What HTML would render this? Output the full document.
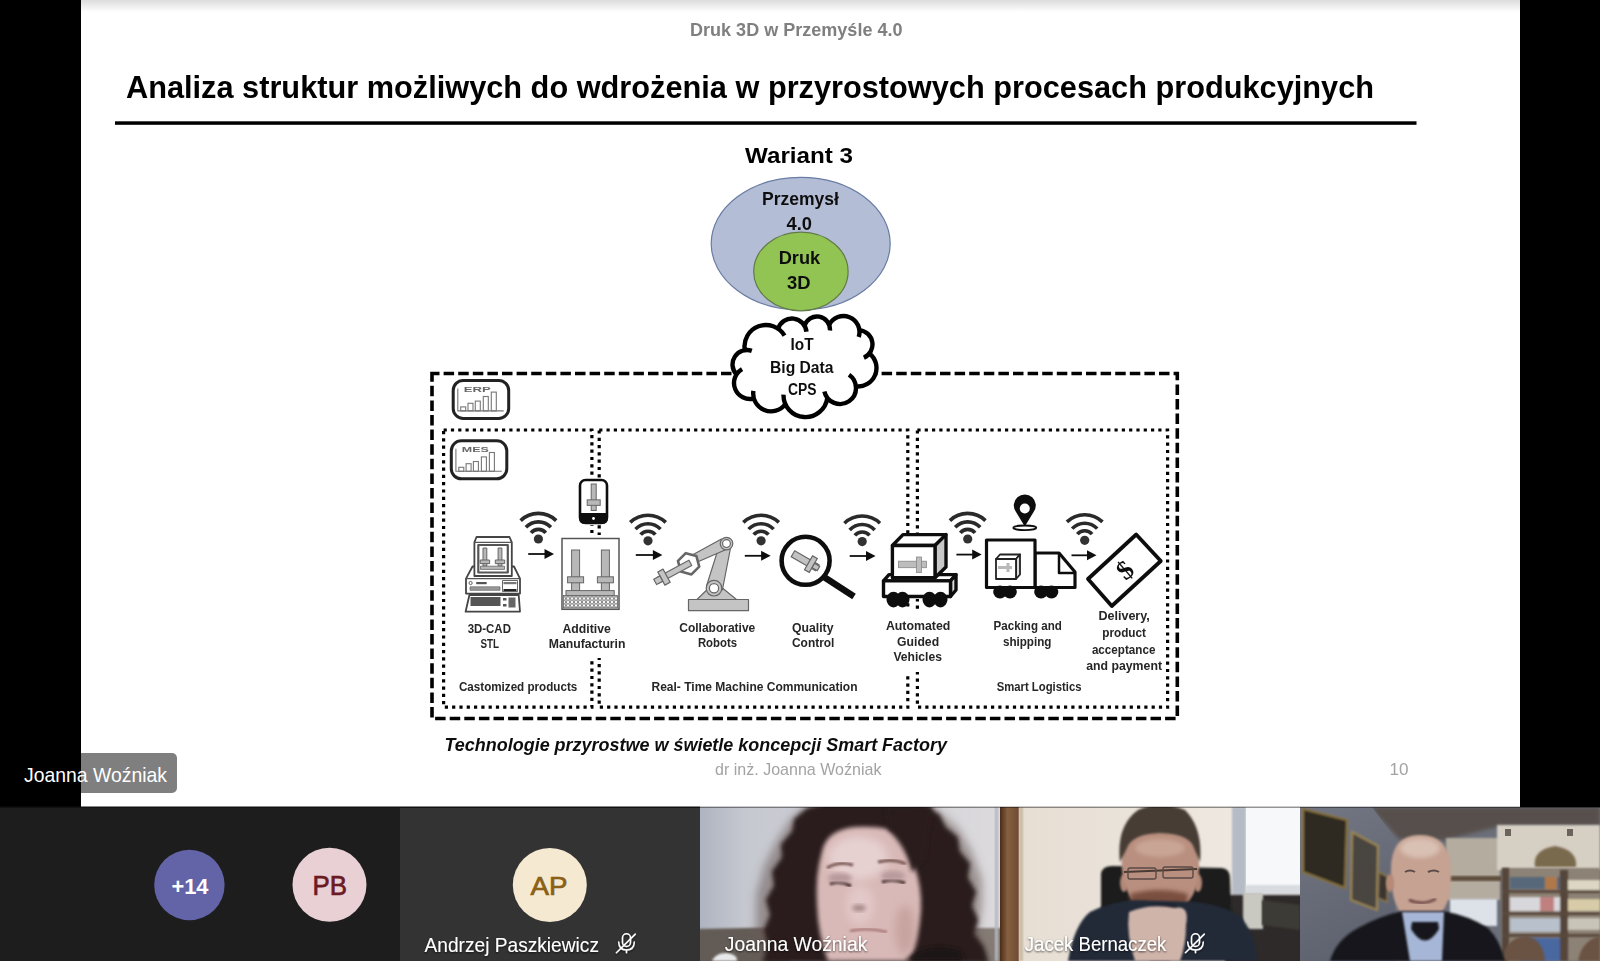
<!DOCTYPE html>
<html><head><meta charset="utf-8">
<style>
html,body{margin:0;padding:0;width:1600px;height:961px;overflow:hidden;background:#000;font-family:"Liberation Sans",sans-serif;}
.abs{position:absolute;}
#slide{left:81px;top:0;width:1439px;height:807px;background:#fff;}
#slide .shade{left:0;top:0;width:1439px;height:12px;background:linear-gradient(#dcdcdc,#fff);}
</style></head><body>
<div id="slide" class="abs"><div class="shade abs"></div></div>
<svg class="abs" style="left:0;top:0" width="1600" height="961" viewBox="0 0 1600 961" font-family="Liberation Sans">
<filter id="soft" x="0" y="0" width="1600" height="961" filterUnits="userSpaceOnUse"><feGaussianBlur stdDeviation="0.45"/></filter>
<g id="diagram" filter="url(#soft)">
<text x="690" y="36.2" font-size="18.5" font-weight="bold" fill="#7f7f7f" textLength="212.5" lengthAdjust="spacingAndGlyphs">Druk 3D w Przemyśle 4.0</text>
<text x="126" y="97.6" font-size="32" font-weight="bold" fill="#000" textLength="1248" lengthAdjust="spacingAndGlyphs">Analiza struktur możliwych do wdrożenia w przyrostowych procesach produkcyjnych</text>
<rect x="115" y="121.3" width="1301.5" height="3.5" fill="#000"/>
<text x="745" y="162.7" font-size="22" font-weight="bold" fill="#000" textLength="108" lengthAdjust="spacingAndGlyphs">Wariant 3</text>
<ellipse cx="800.7" cy="243.6" rx="89.5" ry="66.3" fill="#b3bdd6" stroke="#6a7ca3" stroke-width="1.2"/>
<ellipse cx="800.9" cy="271.5" rx="47.2" ry="39.3" fill="#92c453" stroke="#627a48" stroke-width="1.2"/>
<text x="762" y="204.7" font-size="18" font-weight="bold" fill="#111" textLength="77" lengthAdjust="spacingAndGlyphs">Przemysł</text>
<text x="786.5" y="229.6" font-size="18" font-weight="bold" fill="#111" textLength="25.5" lengthAdjust="spacingAndGlyphs">4.0</text>
<text x="778.7" y="264.2" font-size="18" font-weight="bold" fill="#111" textLength="41.5" lengthAdjust="spacingAndGlyphs">Druk</text>
<text x="787" y="288.6" font-size="18" font-weight="bold" fill="#111" textLength="23.5" lengthAdjust="spacingAndGlyphs">3D</text>
<rect x="432" y="373.5" width="745.3" height="345" fill="none" stroke="#000" stroke-width="3.6" stroke-dasharray="10.5 4.1" stroke-dashoffset="3"/>
<rect x="443.6" y="430" width="148.3" height="277.2" fill="none" stroke="#000" stroke-width="3.2" stroke-dasharray="3.2 4.1"/>
<rect x="599.2" y="430" width="308.6" height="277.2" fill="none" stroke="#000" stroke-width="3.2" stroke-dasharray="3.2 4.1"/>
<rect x="917.4" y="430" width="250.2" height="277.2" fill="none" stroke="#000" stroke-width="3.2" stroke-dasharray="3.2 4.1"/>
<g fill="#fff"><circle cx="747" cy="364.5" r="14.5"/><circle cx="766" cy="346.5" r="21.5"/><circle cx="792" cy="333" r="14.5"/><circle cx="817" cy="329.5" r="13"/><circle cx="843.5" cy="332" r="16"/><circle cx="858" cy="344.5" r="14.5"/><circle cx="858" cy="368" r="18.5"/><circle cx="840" cy="388" r="16"/><circle cx="805.5" cy="395" r="22"/><circle cx="771" cy="393.5" r="17.8"/><circle cx="750" cy="383" r="16"/><polygon points="744.81,350.17 778.14,328.75 804.55,325.74 829.16,324.90 859.38,330.07 869.41,353.44 855.92,386.38 827.33,397.77 785.41,403.96 753.92,398.51 736.47,374.46"/></g><path d="M736.47,374.46 A14.5,14.5 0 0 1 751.80,350.82 M744.81,350.17 A21.5,21.5 0 0 1 784.50,335.54 M778.14,328.75 A14.5,14.5 0 0 1 806.44,331.73 M804.55,325.74 A13,13 0 0 1 829.96,330.47 M829.16,324.90 A16,16 0 0 1 858.71,336.96 M859.38,330.07 A14.5,14.5 0 0 1 863.88,357.75 M869.41,353.44 A18.5,18.5 0 0 1 855.92,386.38 M848.99,374.77 A16,16 0 1 1 824.39,391.49 M827.33,397.77 A22,22 0 0 1 783.50,394.62 M785.41,403.96 A17.8,17.8 0 0 1 753.40,390.82 M753.92,398.51 A16,16 0 0 1 742.06,369.11" fill="none" stroke="#000" stroke-width="4.4" stroke-linecap="butt"/>
<text x="790.6" y="350" font-size="16" font-weight="bold" fill="#111" textLength="23" lengthAdjust="spacingAndGlyphs">IoT</text>
<text x="770" y="373" font-size="16" font-weight="bold" fill="#111" textLength="63.5" lengthAdjust="spacingAndGlyphs">Big Data</text>
<text x="788" y="395" font-size="16" font-weight="bold" fill="#111" textLength="28.5" lengthAdjust="spacingAndGlyphs">CPS</text>
<rect x="453.2" y="380.4" width="55.5" height="38" rx="10" fill="#fff" stroke="#222" stroke-width="3"/><g fill="none" stroke="#777" stroke-width="1.1"><path d="M457.8,388.4 L457.8,410.9 L503.7,410.9"/><rect x="460.7" y="406.9" width="5" height="4"/><rect x="468.0" y="403.29999999999995" width="5" height="7.6"/><rect x="475.3" y="401.09999999999997" width="5" height="9.8"/><rect x="483.3" y="396.5" width="5" height="14.4"/><rect x="491.3" y="392.09999999999997" width="5" height="18.8"/></g><text x="463.7" y="391.5" font-size="6.5" font-weight="bold" fill="#666" textLength="27" lengthAdjust="spacingAndGlyphs">ERP</text>
<rect x="451.3" y="440.8" width="55.5" height="38" rx="10" fill="#fff" stroke="#222" stroke-width="3"/><g fill="none" stroke="#777" stroke-width="1.1"><path d="M455.90000000000003,448.8 L455.90000000000003,471.3 L501.8,471.3"/><rect x="458.8" y="467.3" width="5" height="4"/><rect x="466.1" y="463.7" width="5" height="7.6"/><rect x="473.40000000000003" y="461.5" width="5" height="9.8"/><rect x="481.40000000000003" y="456.90000000000003" width="5" height="14.4"/><rect x="489.40000000000003" y="452.5" width="5" height="18.8"/></g><text x="461.8" y="451.90000000000003" font-size="6.5" font-weight="bold" fill="#666" textLength="27" lengthAdjust="spacingAndGlyphs">MES</text>
<g fill="#fff">
<rect x="560" y="535" width="62" height="123"/>
<rect x="578" y="478" width="31" height="47"/>
<rect x="878" y="534" width="80" height="65"/>
<rect x="880" y="610" width="70" height="62"/>
</g>
<path d="M520.62,520.58 A25.6,25.6 0 0 1 556.18,520.58 M525.89,527.34 A17.1,17.1 0 0 1 550.91,527.34 M531.05,532.83 A9.6,9.6 0 0 1 545.75,532.83" fill="none" stroke="#2a2a2a" stroke-width="3.6"/><circle cx="538.4" cy="539" r="4.6" fill="#333"/>
<line x1="528.2" y1="554" x2="546" y2="554" stroke="#111" stroke-width="1.8"/><path d="M544.5,549 L554,554 L544.5,559 Z" fill="#111"/>
<path d="M630.22,522.38 A25.6,25.6 0 0 1 665.78,522.38 M635.49,529.14 A17.1,17.1 0 0 1 660.51,529.14 M640.65,534.63 A9.6,9.6 0 0 1 655.35,534.63" fill="none" stroke="#2a2a2a" stroke-width="3.6"/><circle cx="648" cy="540.8" r="4.6" fill="#333"/>
<line x1="635.8" y1="555" x2="654.4" y2="555" stroke="#111" stroke-width="1.8"/><path d="M652.9,550 L662.4,555 L652.9,560 Z" fill="#111"/>
<path d="M743.32,522.38 A25.6,25.6 0 0 1 778.88,522.38 M748.59,529.14 A17.1,17.1 0 0 1 773.61,529.14 M753.75,534.63 A9.6,9.6 0 0 1 768.45,534.63" fill="none" stroke="#2a2a2a" stroke-width="3.6"/><circle cx="761.1" cy="540.8" r="4.6" fill="#333"/>
<line x1="744.8" y1="555.8" x2="762.6" y2="555.8" stroke="#111" stroke-width="1.8"/><path d="M761.1,550.8 L770.6,555.8 L761.1,560.8 Z" fill="#111"/>
<path d="M844.42,523.18 A25.6,25.6 0 0 1 879.98,523.18 M849.69,529.94 A17.1,17.1 0 0 1 874.71,529.94 M854.85,535.43 A9.6,9.6 0 0 1 869.55,535.43" fill="none" stroke="#2a2a2a" stroke-width="3.6"/><circle cx="862.2" cy="541.6" r="4.6" fill="#333"/>
<line x1="849.7" y1="556" x2="867.5" y2="556" stroke="#111" stroke-width="1.8"/><path d="M866.0,551 L875.5,556 L866.0,561 Z" fill="#111"/>
<path d="M949.92,520.58 A25.6,25.6 0 0 1 985.48,520.58 M955.19,527.34 A17.1,17.1 0 0 1 980.21,527.34 M960.35,532.83 A9.6,9.6 0 0 1 975.05,532.83" fill="none" stroke="#2a2a2a" stroke-width="3.6"/><circle cx="967.7" cy="539" r="4.6" fill="#333"/>
<line x1="956.4" y1="554.6" x2="973.7" y2="554.6" stroke="#111" stroke-width="1.8"/><path d="M972.2,549.6 L981.7,554.6 L972.2,559.6 Z" fill="#111"/>
<path d="M1066.92,521.88 A25.6,25.6 0 0 1 1102.48,521.88 M1072.19,528.64 A17.1,17.1 0 0 1 1097.21,528.64 M1077.35,534.13 A9.6,9.6 0 0 1 1092.05,534.13" fill="none" stroke="#2a2a2a" stroke-width="3.6"/><circle cx="1084.7" cy="540.3" r="4.6" fill="#333"/>
<line x1="1071.5" y1="555.3" x2="1088.5" y2="555.3" stroke="#111" stroke-width="1.8"/><path d="M1087.0,550.3 L1096.5,555.3 L1087.0,560.3 Z" fill="#111"/>
<g stroke-linejoin="round">
<path d="M472.5,566.5 L514,566.5 L520,578.7 L520,593.6 L466,593.6 L466,578.7 Z" fill="#fff" stroke="#444" stroke-width="1.8"/>
<line x1="466" y1="578.7" x2="520" y2="578.7" stroke="#555" stroke-width="1.2"/>
<circle cx="470.6" cy="583" r="1.6" fill="none" stroke="#555" stroke-width="0.9"/><rect x="476.2" y="582" width="10.5" height="2.2" fill="#555"/>
<rect x="470" y="586.8" width="30" height="3.5" fill="#999" stroke="#666" stroke-width="0.7"/>
<rect x="502.5" y="580.5" width="15" height="11" fill="#fff" stroke="#555" stroke-width="0.9"/>
<rect x="503.5" y="582" width="13" height="2.2" fill="#777"/><rect x="503.5" y="589" width="13" height="2" fill="#222"/>
<path d="M476.5,537 L509.5,537 L511.8,542.4 L511.8,576 L474.4,576 L474.4,542.4 Z" fill="#fff" stroke="#444" stroke-width="1.8"/>
<line x1="474.4" y1="542.4" x2="511.8" y2="542.4" stroke="#555" stroke-width="1.3"/>
<rect x="478.3" y="545" width="29.5" height="27.5" fill="#fff" stroke="#555" stroke-width="2.2"/>
<rect x="483.0" y="548" width="3.8" height="18" fill="#b8b8b8" stroke="#666" stroke-width="1"/><rect x="480.2" y="560.0" width="9.4" height="3.6" fill="#b8b8b8" stroke="#666" stroke-width="1"/>
<rect x="498.1" y="548" width="3.8" height="18" fill="#b8b8b8" stroke="#666" stroke-width="1"/><rect x="495.3" y="560.0" width="9.4" height="3.6" fill="#b8b8b8" stroke="#666" stroke-width="1"/>
<rect x="480.5" y="566.2" width="24" height="3.2" fill="#b8b8b8" stroke="#666" stroke-width="0.8"/>
<path d="M469.4,595 L518.7,595 L520,611.7 L465.6,611.7 Z" fill="#fff" stroke="#444" stroke-width="1.8"/>
<rect x="470.5" y="597" width="30" height="9" fill="#555"/>
<rect x="503" y="598" width="3.5" height="2.5" fill="#555"/><rect x="503" y="604" width="3.5" height="2.5" fill="#555"/>
<rect x="508.5" y="597.5" width="7" height="10" fill="#666"/>
</g>
<rect x="580" y="480" width="27" height="43" rx="5.5" fill="#fff" stroke="#111" stroke-width="2.6"/>
<path d="M579,513 L608,513 L608,518 Q608,524 602,524 L585,524 Q579,524 579,518 Z" fill="#111"/>
<circle cx="593.5" cy="518.5" r="1.4" fill="#fff"/>
<rect x="591.2" y="484" width="5" height="26.5" fill="#b8b8b8" stroke="#666" stroke-width="1"/><rect x="587.2" y="499.85" width="13" height="5.5" fill="#b8b8b8" stroke="#666" stroke-width="1"/>
<rect x="562" y="538.5" width="57" height="70.8" fill="#fff" stroke="#555" stroke-width="1.5"/>
<defs><pattern id="dots" width="4" height="3.5" patternUnits="userSpaceOnUse"><rect width="4" height="3.5" fill="#fff"/><circle cx="2" cy="1.75" r="1.3" fill="none" stroke="#555" stroke-width="0.8"/></pattern></defs>
<rect x="563.5" y="595.5" width="54" height="12.5" fill="url(#dots)" stroke="#666" stroke-width="0.8"/>
<rect x="571.6" y="550" width="8" height="40.60000000000002" fill="#b8b8b8" stroke="#666" stroke-width="1"/><rect x="567.6" y="576.8" width="16" height="6" fill="#b8b8b8" stroke="#666" stroke-width="1"/>
<rect x="601.4" y="550" width="8" height="40.60000000000002" fill="#b8b8b8" stroke="#666" stroke-width="1"/><rect x="597.4" y="576.8" width="16" height="6" fill="#b8b8b8" stroke="#666" stroke-width="1"/>
<rect x="566" y="590.6" width="48.2" height="5" fill="#b8b8b8" stroke="#666" stroke-width="1"/>
<g fill="#c4c4c4" stroke="#666" stroke-width="1.2" stroke-linejoin="round">
<rect x="688.5" y="599.5" width="60" height="11.2"/>
<path d="M697,599.5 L736.5,599.5 L715,582 Z"/>
<path d="M706.5,586 L719.9,543.6 L731,545.5 L722.4,590 Z"/>
<circle cx="714" cy="588.2" r="7.8"/>
<circle cx="714" cy="588.2" r="4.6" fill="#fff"/>
<path d="M721.5,539 L728.5,548.5 L697.4,562 L693.2,554.5 Z"/>
<circle cx="726.5" cy="543.6" r="6.3"/>
<circle cx="726.5" cy="543.6" r="3.9" fill="#fff"/>
<polygon points="699.23,566.65 691.45,574.43 680.82,571.58 677.97,560.95 685.75,553.17 696.38,556.02" fill="#fff" stroke="#666" stroke-width="2.6"/>
<g transform="rotate(-28.4 688.6 563.8)"><rect x="653.6" y="560.8" width="37" height="6"/><rect x="657.6" y="556.3" width="6" height="15"/><rect x="650.6" y="560.8" width="7" height="6"/></g>
</g>
<g transform="rotate(30 805.5 561)" fill="#c2c2c2" stroke="#666" stroke-width="1.2"><rect x="791" y="557.5" width="28" height="7"/><rect x="809" y="553" width="5.5" height="16"/><rect x="814.5" y="558.5" width="6" height="5"/></g>
<circle cx="805.6" cy="560.8" r="24" fill="none" stroke="#111" stroke-width="4.6"/>
<line x1="824" y1="577" x2="854" y2="596.5" stroke="#111" stroke-width="6.5"/>
<g stroke="#111" stroke-width="3.4" stroke-linejoin="round">
<path d="M883.5,580.9 L889,574.6 L956,574.6 L950.5,580.9 Z" fill="#fff"/>
<path d="M950.5,580.9 L956,574.6 L956,590 L950.5,596.5 Z" fill="#ddd"/>
<rect x="883.5" y="580.9" width="67" height="15.6" fill="#fff"/>
<path d="M892.4,545.5 L903,534.6 L946,534.6 L935,545.5 Z" fill="#fff"/>
<path d="M935,545.5 L946,534.6 L946,567 L935,577.8 Z" fill="#c8c8c8"/>
<rect x="892.4" y="545.5" width="42.6" height="32.3" fill="#fff"/>
</g>
<rect x="898.5" y="561.2" width="28" height="6.5" fill="#bdbdbd" stroke="#888" stroke-width="0.8"/>
<rect x="916.5" y="557" width="5" height="15.5" fill="#bdbdbd" stroke="#888" stroke-width="0.8"/>
<g fill="#111"><ellipse cx="893.5" cy="599.6" rx="7" ry="7.8"/><ellipse cx="902.5" cy="599.6" rx="7" ry="7.8"/><ellipse cx="929.5" cy="599.6" rx="7" ry="7.8"/><ellipse cx="940.5" cy="599.6" rx="7" ry="7.8"/></g>
<ellipse cx="1024.8" cy="527.8" rx="11.5" ry="2.3" fill="none" stroke="#111" stroke-width="1.8"/>
<path d="M1024.8,526.5 L1016,512 A11,11 0 1 1 1033.6,512 Z" fill="#111"/>
<circle cx="1024.8" cy="508.5" r="5" fill="#fff"/>
<g stroke="#111" stroke-width="3.2" fill="#fff" stroke-linejoin="round">
<path d="M1035,553 L1059,553 L1075,572 L1075,587.5 L1035,587.5 Z"/>
<path d="M1059,553 L1059,573 L1075,573" fill="none" stroke-width="2.5"/>
<rect x="986.5" y="540" width="48.5" height="47.5"/>
</g>
<g stroke="#222" stroke-width="1.8" fill="#fff" stroke-linejoin="round"><path d="M996,559 L1000,554.5 L1020,554.5 L1016,559 Z"/><path d="M1016,559 L1020,554.5 L1020,574.5 L1016,579 Z" fill="#ddd"/><rect x="996" y="559" width="20" height="20"/></g>
<rect x="998" y="566" width="14" height="3" fill="#b8b8b8"/><rect x="1006.5" y="563" width="3" height="9" fill="#b8b8b8"/>
<g fill="#111"><ellipse cx="1000" cy="592" rx="6.8" ry="6.5"/><ellipse cx="1010" cy="592" rx="6.8" ry="6.5"/><ellipse cx="1041" cy="592" rx="6.8" ry="6.5"/><ellipse cx="1051.5" cy="592" rx="6.8" ry="6.5"/></g>
<path d="M1136.2,534.5 L1160.8,561 L1111.8,606 L1088,579 Z" fill="#fff" stroke="#111" stroke-width="3.8" stroke-linejoin="round"/>
<text x="1125" y="579" font-size="27" font-family="Liberation Serif" font-weight="bold" fill="#111" text-anchor="middle" transform="rotate(-41 1125 570)">$</text>
<text x="467.7" y="632.6" font-size="12.2" font-weight="bold" fill="#262626" textLength="43.199999999999996" lengthAdjust="spacingAndGlyphs">3D-CAD</text>
<text x="480.4" y="648" font-size="12.2" font-weight="bold" fill="#262626" textLength="18.6" lengthAdjust="spacingAndGlyphs">STL</text>
<text x="562.5" y="632.6" font-size="12.2" font-weight="bold" fill="#262626" textLength="48.3" lengthAdjust="spacingAndGlyphs">Additive</text>
<text x="548.7" y="648" font-size="12.2" font-weight="bold" fill="#262626" textLength="76.8" lengthAdjust="spacingAndGlyphs">Manufacturin</text>
<text x="679.3000000000001" y="632.3" font-size="12.2" font-weight="bold" fill="#262626" textLength="76.0" lengthAdjust="spacingAndGlyphs">Collaborative</text>
<text x="697.9000000000001" y="647.3" font-size="12.2" font-weight="bold" fill="#262626" textLength="39.099999999999994" lengthAdjust="spacingAndGlyphs">Robots</text>
<text x="792.0" y="632.3" font-size="12.2" font-weight="bold" fill="#262626" textLength="41.5" lengthAdjust="spacingAndGlyphs">Quality</text>
<text x="792.0" y="647.3" font-size="12.2" font-weight="bold" fill="#262626" textLength="42.4" lengthAdjust="spacingAndGlyphs">Control</text>
<text x="885.9000000000001" y="629.5" font-size="12.2" font-weight="bold" fill="#262626" textLength="64.5" lengthAdjust="spacingAndGlyphs">Automated</text>
<text x="897.1" y="646.3" font-size="12.2" font-weight="bold" fill="#262626" textLength="42.0" lengthAdjust="spacingAndGlyphs">Guided</text>
<text x="893.4000000000001" y="661.3" font-size="12.2" font-weight="bold" fill="#262626" textLength="48.5" lengthAdjust="spacingAndGlyphs">Vehicles</text>
<text x="993.6" y="629.5" font-size="12.2" font-weight="bold" fill="#262626" textLength="68.2" lengthAdjust="spacingAndGlyphs">Packing and</text>
<text x="1002.9000000000001" y="646" font-size="12.2" font-weight="bold" fill="#262626" textLength="48.599999999999994" lengthAdjust="spacingAndGlyphs">shipping</text>
<text x="1098.4" y="620" font-size="12.2" font-weight="bold" fill="#262626" textLength="51.4" lengthAdjust="spacingAndGlyphs">Delivery,</text>
<text x="1102.2" y="636.8" font-size="12.2" font-weight="bold" fill="#262626" textLength="43.8" lengthAdjust="spacingAndGlyphs">product</text>
<text x="1091.9" y="653.6" font-size="12.2" font-weight="bold" fill="#262626" textLength="63.5" lengthAdjust="spacingAndGlyphs">acceptance</text>
<text x="1086.2" y="669.5" font-size="12.2" font-weight="bold" fill="#262626" textLength="75.8" lengthAdjust="spacingAndGlyphs">and payment</text>
<text x="458.9" y="690.9" font-size="12.2" font-weight="bold" fill="#262626" textLength="118.39999999999999" lengthAdjust="spacingAndGlyphs">Castomized products</text>
<text x="651.5" y="691.3" font-size="12.2" font-weight="bold" fill="#262626" textLength="206.0" lengthAdjust="spacingAndGlyphs">Real- Time Machine Communication</text>
<text x="996.7" y="691" font-size="12.2" font-weight="bold" fill="#262626" textLength="84.8" lengthAdjust="spacingAndGlyphs">Smart Logistics</text>
<text x="444.5" y="750.8" font-size="17.8" font-weight="bold" fill="#111" font-style="italic" textLength="502.5" lengthAdjust="spacingAndGlyphs">Technologie przyrostwe w świetle koncepcji Smart Factory</text>
<text x="715" y="774.7" font-size="17" font-weight="normal" fill="#a3a3a3" textLength="166.5" lengthAdjust="spacingAndGlyphs">dr inż. Joanna Woźniak</text>
<text x="1389.5" y="775" font-size="17" font-weight="normal" fill="#a3a3a3" textLength="19" lengthAdjust="spacingAndGlyphs">10</text>
</g>
<defs>
<filter id="b1" x="-20%" y="-20%" width="140%" height="140%"><feGaussianBlur stdDeviation="1"/></filter>
<filter id="b2" x="-20%" y="-20%" width="140%" height="140%"><feGaussianBlur stdDeviation="2"/></filter>
<filter id="b4" x="-30%" y="-30%" width="160%" height="160%"><feGaussianBlur stdDeviation="4"/></filter>
<filter id="b6" x="-30%" y="-30%" width="160%" height="160%"><feGaussianBlur stdDeviation="6"/></filter>
<filter id="ts" x="-10%" y="-30%" width="120%" height="160%"><feDropShadow dx="0" dy="1" stdDeviation="1.2" flood-color="#000" flood-opacity="0.7"/></filter>
<linearGradient id="t3l" x1="0" x2="1" y1="0" y2="0"><stop offset="0" stop-color="#7d8898"/><stop offset="0.25" stop-color="#b7bac3"/><stop offset="1" stop-color="#d3d1d6"/></linearGradient>
<clipPath id="c3"><rect x="700" y="807" width="300" height="154"/></clipPath>
<clipPath id="c4"><rect x="1000" y="807" width="300" height="154"/></clipPath>
<clipPath id="c5"><rect x="1300" y="807" width="300" height="154"/></clipPath>
</defs>
<rect x="-6" y="753" width="183" height="40" rx="5" fill="#000" fill-opacity="0.5"/>
<text x="24" y="782" font-size="21" fill="#fff" textLength="143" lengthAdjust="spacingAndGlyphs">Joanna Woźniak</text>
<rect x="0" y="807" width="1600" height="154" fill="#1e1d1e"/>
<rect x="400" y="807" width="300" height="154" fill="#333333"/>
<rect x="0" y="806.5" width="700" height="1.5" fill="#111"/>
<circle cx="189.4" cy="885" r="35.2" fill="#6264a7"/>
<text x="171.5" y="894.2" font-size="22.5" font-weight="bold" fill="#fff" textLength="37" lengthAdjust="spacingAndGlyphs">+14</text>
<circle cx="329.5" cy="884.8" r="37" fill="#e8d0d4"/>
<text x="312.6" y="895" font-size="27" fill="#6b1a24" stroke="#6b1a24" stroke-width="0.7" textLength="34.5" lengthAdjust="spacingAndGlyphs">PB</text>
<circle cx="549.8" cy="885" r="37" fill="#f6e9d2"/>
<text x="530.5" y="895.3" font-size="26.5" fill="#8a6116" stroke="#8a6116" stroke-width="0.7" textLength="37" lengthAdjust="spacingAndGlyphs">AP</text>
<g clip-path="url(#c3)">
<linearGradient id="t3bg" x1="0" x2="1" y1="0" y2="0"><stop offset="0" stop-color="#aeb4c0"/><stop offset="0.15" stop-color="#c6c8d0"/><stop offset="1" stop-color="#dcdadd"/></linearGradient>
<rect x="700" y="807" width="300" height="154" fill="url(#t3bg)"/>
<path d="M695,929 L790,927 L790,970 L695,970 Z" fill="#645c57" filter="url(#b1)"/>
<path d="M965,928 L1005,928 L1005,970 L965,970 Z" fill="#857b75" filter="url(#b1)"/>
<rect x="995" y="807" width="3" height="154" fill="#b4b8c0" filter="url(#b1)"/>
<path d="M712,961 Q716,952 728,953 Q738,955 737,961 Z" fill="#e8e8ea" filter="url(#b1)"/>
<path d="M752,961 L756,925 L756,895 L764,866 L776,842 L790,820 L805,806 L932,806 L958,828 L972,852 L982,880 L982,905 L978,930 L990,961 Z" fill="#6a5a58" fill-opacity="0.55" filter="url(#b4)"/>
<path d="M765,961 L770,945 L766,930 L772,915 L768,900 L776,886 L774,872 L784,858 L783,845 L794,832 L796,820 L808,810 L830,804 L870,802 L905,804 L925,808 L938,816 L944,828 L956,838 L958,852 L968,864 L966,878 L974,892 L970,906 L976,920 L972,934 L982,948 L986,961 Z" fill="#2a1e1b" stroke="#2a1e1b" stroke-width="4" stroke-linejoin="round" filter="url(#b2)"/>
<path d="M822,852 Q826,830 855,827 Q888,825 906,836 L914,865 Q922,885 921,910 Q919,940 910,961 L828,961 Q818,935 817,905 Q815,875 822,852 Z" fill="#d8b9b7" filter="url(#b2)"/>
<ellipse cx="858" cy="858" rx="30" ry="22" fill="#e6d0d0" filter="url(#b4)"/>
<ellipse cx="860" cy="905" rx="14" ry="20" fill="#e2c8c8" filter="url(#b4)"/>
<path d="M885,806 L932,806 L925,860 L912,872 Q906,846 888,830 Z" fill="#2a1e1b" filter="url(#b2)"/>
<path d="M827,868 Q838,861 853,865" stroke="#7a5a55" stroke-width="3" fill="none" filter="url(#b1)"/>
<path d="M878,862 Q893,858 906,864" stroke="#7a5a55" stroke-width="3" fill="none" filter="url(#b1)"/>
<path d="M830,884 Q840,880 851,886" stroke="#4a3432" stroke-width="3.2" fill="none" filter="url(#b1)"/>
<path d="M882,882 Q893,878 905,883" stroke="#4a3432" stroke-width="3.2" fill="none" filter="url(#b1)"/>
<ellipse cx="840" cy="878" rx="12" ry="5" fill="#b89a9c" filter="url(#b2)"/>
<ellipse cx="893" cy="876" rx="12" ry="5" fill="#b89a9c" filter="url(#b2)"/>
<ellipse cx="859" cy="908" rx="7" ry="3.5" fill="#a88888" filter="url(#b2)"/>
<path d="M850,931 Q868,927 887,932" stroke="#a87878" stroke-width="2.6" fill="none" filter="url(#b1)"/>
<ellipse cx="905" cy="930" rx="10" ry="25" fill="#b89088" fill-opacity="0.5" filter="url(#b4)"/>
<path d="M905,961 Q925,940 960,950 L965,961 Z" fill="#1e1614" filter="url(#b2)"/>
</g>
<g clip-path="url(#c4)">
<linearGradient id="t4bg" x1="0" x2="1" y1="0" y2="0"><stop offset="0" stop-color="#e6ddd2"/><stop offset="1" stop-color="#f0ebe4"/></linearGradient>
<rect x="1000" y="807" width="300" height="154" fill="url(#t4bg)"/>
<linearGradient id="t4wood" x1="0" x2="1" y1="0" y2="0"><stop offset="0" stop-color="#4a2c18"/><stop offset="0.4" stop-color="#87603e"/><stop offset="1" stop-color="#6e4a32"/></linearGradient>
<rect x="1000" y="807" width="19" height="154" fill="url(#t4wood)"/>
<rect x="1019" y="807" width="4" height="154" fill="#cbb9a5" filter="url(#b1)"/>
<rect x="1232" y="807" width="14" height="90" fill="#b5bcc6" filter="url(#b1)"/>
<rect x="1246" y="807" width="60" height="79" fill="#f6f8fa"/>
<rect x="1246" y="885" width="60" height="10" fill="#d8dce0" filter="url(#b1)"/>
<path d="M1225,895 L1305,895 L1305,965 L1225,965 Z" fill="#2e2c29" filter="url(#b1)"/>
<rect x="1243" y="893" width="20" height="36" fill="#c9c9c2" filter="url(#b1)"/>
<path d="M1262,900 L1300,905 L1300,930 L1262,925 Z" fill="#3e3a34" filter="url(#b1)"/>
<path d="M1101,873 Q1103,866 1112,866 L1222,868 Q1230,869 1230,878 L1232,935 L1101,935 Z" fill="#1b1b1e" filter="url(#b1)"/>
<ellipse cx="1124" cy="883" rx="4" ry="9" fill="#b08878" filter="url(#b1)"/>
<ellipse cx="1198" cy="883" rx="4" ry="9" fill="#b08878" filter="url(#b1)"/>
<path d="M1122,870 Q1120,838 1135,822 Q1158,806 1182,816 Q1200,830 1199,870 Q1198,908 1160,918 Q1126,910 1122,870 Z" fill="#b98f7f" filter="url(#b1)"/>
<path d="M1120,862 Q1116,826 1138,810 Q1160,800 1185,810 Q1203,828 1200,862 L1194,848 Q1190,834 1160,833 Q1132,834 1127,848 Z" fill="#463c34" filter="url(#b1)"/>
<ellipse cx="1160" cy="848" rx="25" ry="9" fill="#c9a595" filter="url(#b2)"/>
<path d="M1124,872 L1197,869" stroke="#4a3a35" stroke-width="2" fill="none"/>
<rect x="1128" y="868" width="28" height="11" rx="2" fill="none" stroke="#5a4a45" stroke-width="1.4"/>
<rect x="1163" y="867" width="30" height="11" rx="2" fill="none" stroke="#5a4a45" stroke-width="1.4"/>
<path d="M1130,894 Q1160,886 1188,894 L1186,914 Q1160,920 1132,914 Z" fill="#7a5040" filter="url(#b2)"/>
<path d="M1068,961 Q1074,925 1090,912 Q1110,902 1135,900 L1195,902 Q1225,905 1242,918 Q1255,935 1258,961 Z" fill="#232a37" filter="url(#b1)"/>
<path d="M1150,905 L1175,905 L1170,961 L1150,961 Z" fill="#1a1f2a" filter="url(#b1)"/>
<path d="M1129,912 Q1150,903 1175,908 Q1190,905 1186,925 Q1186,945 1180,961 L1135,961 Q1126,935 1129,912 Z" fill="#cfb4aa" filter="url(#b1)"/>
</g>
<g clip-path="url(#c5)">
<rect x="1300" y="807" width="300" height="154" fill="#6c6f7a"/>
<path d="M1370,807 L1600,807 L1600,826 L1500,826 L1445,840 L1400,840 Z" fill="#56504b" filter="url(#b2)"/>
<linearGradient id="t5wall" x1="0" y1="0" x2="0.3" y2="1"><stop offset="0" stop-color="#737784"/><stop offset="1" stop-color="#5f6370"/></linearGradient>
<path d="M1300,807 L1372,807 L1395,838 L1395,961 L1300,961 Z" fill="url(#t5wall)"/>
<rect x="1446" y="838" width="54" height="62" fill="#b4ac9e" filter="url(#b1)"/>
<rect x="1440" y="876" width="62" height="5" fill="#5e4e3e" filter="url(#b1)"/>
<rect x="1497" y="825" width="103" height="45" fill="#d6cfc4" filter="url(#b1)"/>
<rect x="1505" y="829" width="6" height="7" fill="#6a645c"/><rect x="1567" y="829" width="6" height="7" fill="#6a645c"/>
<path d="M1535,867 Q1532,850 1555,846 Q1578,850 1576,867 Z" fill="#7a6a4e" filter="url(#b1)"/>
<rect x="1502" y="868" width="98" height="93" fill="#8c8274" filter="url(#b1)"/>
<g filter="url(#b1)">
<rect x="1510" y="877" width="50" height="12" fill="#56687a"/><rect x="1545" y="877" width="12" height="12" fill="#b07848"/>
<rect x="1510" y="897" width="52" height="14" fill="#d8d8dc"/><rect x="1540" y="897" width="14" height="14" fill="#c08080"/>
<rect x="1510" y="918" width="55" height="14" fill="#b8c0cc"/>
<rect x="1568" y="880" width="32" height="10" fill="#ddd6c4"/><rect x="1568" y="899" width="32" height="12" fill="#d8cca8"/><rect x="1568" y="918" width="32" height="12" fill="#c8c4b8"/>
<rect x="1560" y="870" width="8" height="91" fill="#54443a"/><rect x="1502" y="868" width="7" height="93" fill="#54443a"/>
<rect x="1502" y="890" width="98" height="3" fill="#5a4a3e"/><rect x="1502" y="912" width="98" height="3" fill="#5a4a3e"/><rect x="1502" y="934" width="98" height="3" fill="#5a4a3e"/>
<rect x="1520" y="938" width="40" height="23" fill="#4a68a0"/>
</g>
<rect x="1450" y="899" width="47" height="27" fill="#dde1e8" filter="url(#b1)"/>
<path d="M1303,809 L1347,820 L1345,888 L1303,872 Z" fill="#2f2b22" stroke="#86703e" stroke-width="2.2" filter="url(#b1)"/>
<path d="M1352,832 L1378,846 L1377,910 L1351,900 Z" fill="#48453f" stroke="#9a8452" stroke-width="2.2" filter="url(#b1)"/>
<path d="M1379,872 L1388,877 L1387,902 L1378,898 Z" fill="#3a3630" stroke="#8a7448" stroke-width="1.5" filter="url(#b1)"/>
<path d="M1502,961 Q1505,938 1525,936 Q1543,938 1545,961 Z" fill="#6b5242" filter="url(#b1)"/>
<path d="M1578,961 Q1582,940 1600,936 L1600,961 Z" fill="#6b5242" filter="url(#b1)"/>
<path d="M1391,872 Q1390,835 1420,835 Q1450,835 1451,870 Q1452,902 1440,914 Q1422,922 1402,914 Q1391,902 1391,872 Z" fill="#c6a292" filter="url(#b1)"/>
<ellipse cx="1420" cy="848" rx="20" ry="10" fill="#d8c0b2" filter="url(#b2)"/>
<ellipse cx="1390" cy="883" rx="4" ry="9" fill="#b88a78" filter="url(#b1)"/>
<path d="M1405,872 Q1410,869 1415,872 M1428,872 Q1434,869 1439,872" stroke="#5a4a48" stroke-width="2" fill="none"/>
<path d="M1409,900 Q1422,906 1436,899" stroke="#6a4040" stroke-width="2.5" fill="none" filter="url(#b1)"/>
<path d="M1330,961 Q1336,940 1358,928 Q1380,916 1402,911 L1443,911 Q1470,916 1488,928 Q1500,940 1505,961 Z" fill="#19191d" filter="url(#b1)"/>
<path d="M1402,912 L1444,912 L1442,961 L1410,961 Z" fill="#a6b6d6" filter="url(#b1)"/>
<path d="M1411,929 Q1425,952 1439,929 L1438,922 L1412,922 Z" fill="#19191b" filter="url(#b1)"/>
</g>
<rect x="700" y="806.6" width="900" height="1.2" fill="#000" fill-opacity="0.5"/>
<g filter="url(#ts)" fill="#fff">
<text x="424.5" y="951.6" font-size="20.3" textLength="174.5" lengthAdjust="spacingAndGlyphs">Andrzej Paszkiewicz</text>
<text x="724.8" y="951.3" font-size="20.3" textLength="142.5" lengthAdjust="spacingAndGlyphs">Joanna Woźniak</text>
<text x="1024.8" y="951.3" font-size="20.3" textLength="141.5" lengthAdjust="spacingAndGlyphs">Jacek Bernaczek</text>
</g>
<g fill="none" stroke="#fff" stroke-width="1.5" filter="url(#ts)" stroke-linecap="round"><rect x="622.5" y="933.8000000000001" width="8" height="12.6" rx="4"/><path d="M618.7,942.0 Q618.9,950.0 626.5,950.0 Q634.1,950.0 634.3,942.0"/><line x1="626.5" y1="950.0" x2="626.5" y2="952.8000000000001"/><line x1="616.4" y1="952.8000000000001" x2="635.3" y2="934.1"/></g>
<g fill="none" stroke="#fff" stroke-width="1.5" filter="url(#ts)" stroke-linecap="round"><rect x="1191.5" y="933.8000000000001" width="8" height="12.6" rx="4"/><path d="M1187.7,942.0 Q1187.9,950.0 1195.5,950.0 Q1203.1,950.0 1203.3,942.0"/><line x1="1195.5" y1="950.0" x2="1195.5" y2="952.8000000000001"/><line x1="1185.4" y1="952.8000000000001" x2="1204.3" y2="934.1"/></g>
</svg>
</body></html>
